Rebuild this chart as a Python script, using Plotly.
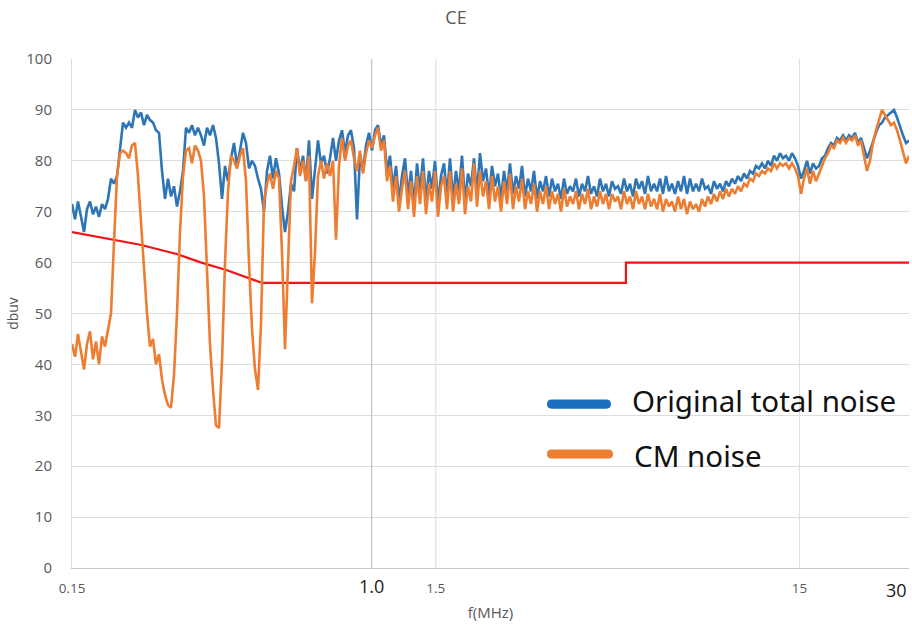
import numpy as np
import plotly.graph_objects as go

# ---------------- data ----------------
# Original total noise (dBuV), sweep 0.15 - 30 MHz (log-spaced sweep points)
total_noise = [
    71.5, 68.5, 72, 69, 66, 70.5, 72, 69.5, 71, 69,
    71.5, 70.5, 72.5, 76.5, 75.5, 77, 82.5, 87.5, 86.5, 87.5,
    86.5, 90, 88.5, 89.5, 87, 89, 88, 87.5, 86, 85.5,
    78, 72.5, 76.5, 73, 75, 71, 74, 78, 86.5, 85.5,
    87, 85, 86.5, 85, 83, 86.5, 85, 87, 84.5, 79.5,
    72.5, 79, 76, 80.5, 83.5, 79, 82, 85.5, 83.5, 78.5,
    80, 79, 76.5, 74.5, 70, 78, 81, 76.5, 80.5, 77.5,
    71, 66, 70, 75.5, 74, 82.5, 78, 81, 76, 84,
    72.5, 78, 84, 79.5, 81, 77.5, 80.5, 84.5, 80, 84,
    86, 81.5, 85, 86, 82.5, 68.5, 81, 78, 83, 85.5,
    82, 86, 87, 83, 85, 78, 81, 74.5, 79, 72,
    77, 80.5, 73, 78, 71, 79.5, 74, 80.5, 72, 78,
    74.5, 80, 71.5, 77, 79.5, 73, 80.5, 72.5, 78, 74,
    81, 72, 77.5, 75, 80.5, 73.5, 81.5, 76, 78.5, 73,
    79, 75, 77.5, 72.5, 78, 74, 79.5, 73.5, 77, 74.5,
    79, 73, 76.5, 74, 78, 72.5, 76, 74, 77, 73,
    76.5, 74, 75.5, 72.5, 76.5, 73.5, 75, 74, 76.5, 73,
    75.5, 74, 77, 73.5, 75, 73, 76.5, 74, 75.5, 73,
    76, 74.5, 75, 73.5, 76.5, 74, 75.5, 73, 76.5, 74.5,
    76, 73.5, 77, 74, 75.5, 74, 76.5, 73.5, 77, 74,
    75.5, 73.5, 76, 74, 77, 73.5, 76.5, 74, 75.5, 74,
    76.5, 74.5, 75, 73.5, 76, 74.5, 75.5, 74, 76, 75,
    76.5, 75.5, 77, 76, 77.5, 76.5, 78, 77.5, 79, 78.5,
    79.5, 78.5, 80, 79, 81, 80, 81.5, 80.5, 81, 80,
    81.5, 80.5, 79, 76.5, 78, 80, 77.5, 79.5, 78.5, 79,
    80.5, 81, 82.5, 83.5, 83, 84.5, 84, 85, 84, 85,
    84.5, 85.5, 83.5, 84.5, 82.5, 80.5, 82, 84, 85.5, 87,
    87.5, 88.5, 89, 89.5, 90, 88.5, 86.5, 85, 83.5, 84,
]

# CM noise (dBuV)
cm_noise = [
    44, 41.5, 46, 42, 39, 44, 46.5, 41, 44.5, 40,
    45.5, 43.5, 46.5, 50, 64, 77, 81.5, 82, 81.5, 80.5,
    83, 83.5, 77, 68, 59, 50, 43.5, 45, 40, 42,
    37, 34, 32, 31.5, 38, 50, 66, 77, 82, 82.5,
    79.5, 83, 82, 80, 73, 58, 44, 35, 28, 27.5,
    40.5, 60, 74, 81, 80, 78.5, 81, 82.5, 76, 60,
    47, 39, 35, 48, 72, 75.5, 77.5, 74.5, 78, 76.5,
    62, 43, 60, 76, 79, 82.5, 77, 80, 76, 81,
    52, 62, 77, 80, 76.5, 79.5, 77, 80, 64.5, 79,
    84.5, 80, 83, 84, 80.5, 78, 82, 77.5, 81.5, 84,
    82.5, 85, 86.5, 82, 84, 76, 79, 72, 77, 70,
    74.5, 78, 70.5, 76, 69, 77, 71.5, 78, 69.5, 75.5,
    72, 78, 69, 75, 77, 70.5, 78, 70, 75.5, 71.5,
    78.5, 69.5, 75, 72, 79.5, 71, 78, 73, 76, 70.5,
    77, 72, 75, 70, 76, 71.5, 77.5, 70.5, 75, 72,
    76.5, 70.5, 74, 71.5, 75.5, 70, 74, 71.5, 75, 70.5,
    74, 71.5, 73.5, 70, 74.5, 71, 73, 71.5, 74, 70.5,
    73.5, 71.5, 74.5, 70.5, 73, 71, 74, 71.5, 73.5, 70.5,
    73.5, 72, 73, 70.5, 74, 71.5, 73, 70.5, 74, 71.5,
    73, 70.5, 73.5, 71, 72.5, 70.5, 73.5, 70, 72.5, 71,
    72, 70, 73, 70.5, 72.5, 69.5, 72, 70.5, 71.5, 70,
    72.5, 71, 73, 71.5, 73.5, 72, 74, 72.5, 74.5, 73,
    74.5, 73.5, 75, 74, 75.5, 75, 76.5, 76, 77.5, 77,
    78, 77.5, 78.5, 78, 79.5, 78.5, 79.5, 79, 79.5, 78.5,
    79.5, 78.5, 77, 73.5, 76.5, 78.5, 75.5, 78, 76, 77.5,
    79, 80.5, 81.5, 83, 82.5, 84, 83.5, 84.5, 83.5, 84.5,
    84, 85, 83, 84, 81, 78, 80, 83.5, 86, 88,
    90, 89, 88, 87, 87.5, 86, 84, 82, 79.5, 81,
]

# EMI limit line
limit_freq = [0.15, 0.194, 0.231, 0.291, 0.337, 0.40, 0.50, 5.0, 5.0, 30.0]
limit_dbuv = [66, 64.6, 63.5, 61.7, 60.1, 58.5, 56, 56, 60, 60]

# x-axis ticks
x_tick_vals = [0.15, 1.0, 1.5, 15, 30]
x_tick_text = ["0.15", "1.0", "1.5", "15", "30"]
x_tick_big = [False, True, False, False, True]
x_grid_vals = [1.0, 1.5, 15]

legend_names = ["Original total noise", "CM noise"]

# ---------------- figure ----------------
BLUE = "#2e75b6"
ORANGE = "#ed7d31"
RED = "#f01414"
GRAY_TXT = "#595959"
BIG_TXT = "#1a1a1a"

f_total = np.geomspace(0.15, 30, len(total_noise))
f_cm = np.geomspace(0.15, 30, len(cm_noise))

fig = go.Figure()
fig.add_trace(go.Scatter(x=limit_freq, y=limit_dbuv, mode="lines",
                         line=dict(color=RED, width=2.2), showlegend=False,
                         name="Limit"))
fig.add_trace(go.Scatter(x=f_total, y=total_noise, mode="lines",
                         line=dict(color=BLUE, width=2.6), showlegend=False,
                         name=legend_names[0]))
fig.add_trace(go.Scatter(x=f_cm, y=cm_noise, mode="lines",
                         line=dict(color=ORANGE, width=2.6), showlegend=False,
                         name=legend_names[1]))

# tick labels; the last one (at the right edge) is placed as a right-anchored label
ticktext = []
annotations = []
for v, t, big in zip(x_tick_vals, x_tick_text, x_tick_big):
    if v == x_tick_vals[-1]:
        ticktext.append("")
        annotations.append(dict(text=t, xref="x", yref="paper", x=np.log10(v),
                                y=-0.043, xanchor="right", yanchor="middle",
                                showarrow=False,
                                font=dict(size=18, color=BIG_TXT)))
    elif big:
        ticktext.append("<span style='font-size:18px;fill:%s;color:%s'>%s</span>"
                        % (BIG_TXT, BIG_TXT, t))
    else:
        ticktext.append(t)

shapes = []
for gv in x_grid_vals:
    shapes.append(dict(type="line", xref="x", yref="y", x0=gv, x1=gv, y0=0, y1=100,
                       line=dict(color="#c4c4c4" if gv == 1.0 else "#dedede", width=1.2),
                       layer="between"))
# legend backdrop
shapes.append(dict(type="rect", xref="paper", yref="paper", x0=0.645, x1=1.0,
                   y0=0.167, y1=0.405, fillcolor="white", line=dict(width=0),
                   layer="between"))

def pill(xp, yp, length, color):
    h = 4.6
    L = length
    path = ("M %g,%g L %g,%g Q %g,%g %g,0 Q %g,%g %g,%g L %g,%g Q 0,%g 0,0 Q 0,%g %g,%g Z"
            % (h, -h, L - h, -h, L, -h, L, L, h, L - h, h, h, h, h, -h, h, -h))
    return dict(type="path", xref="paper", yref="paper", xsizemode="pixel",
                ysizemode="pixel", xanchor=xp, yanchor=yp, path=path,
                fillcolor=color, line=dict(width=0), layer="above")

shapes.append(pill(0.5675, 0.322, 64, "#1a6fc0"))
shapes.append(pill(0.5675, 0.224, 66, ORANGE))

annotations += [
    dict(text=legend_names[0], xref="paper", yref="paper", x=0.667, y=0.330,
         xanchor="left", yanchor="middle", showarrow=False,
         font=dict(family="Noto Sans", size=29.5, color="#111111")),
    dict(text=legend_names[1], xref="paper", yref="paper", x=0.669, y=0.222,
         xanchor="left", yanchor="middle", showarrow=False,
         font=dict(family="Noto Sans", size=29.5, color="#111111")),
]

fig.update_layout(
    width=912, height=627,
    margin=dict(l=72, r=3, t=59, b=59, autoexpand=False),
    paper_bgcolor="white", plot_bgcolor="white",
    font=dict(family="Open Sans", color=GRAY_TXT, size=13),
    title=dict(text="CE", x=0.5, xanchor="center", y=0.972, yanchor="middle",
               font=dict(size=18, color=GRAY_TXT)),
    shapes=shapes, annotations=annotations,
    showlegend=False,
)
fig.update_xaxes(type="log", range=[np.log10(0.15), np.log10(30)],
                 tickvals=x_tick_vals, ticktext=ticktext, showgrid=False,
                 showline=True, linecolor="#c8c8c8", linewidth=1.2, ticks="",
                 zeroline=False, ticklabelstandoff=8, automargin=False,
                 tickfont=dict(size=13.5, color=GRAY_TXT),
                 title=dict(text="f(MHz)", font=dict(size=15, color=GRAY_TXT),
                            standoff=10))
fig.update_yaxes(range=[0, 100], dtick=10, showgrid=True, gridcolor="#dcdcdc",
                 gridwidth=1.2, showline=True, linecolor="#dcdcdc", ticks="",
                 zeroline=False, ticklabelstandoff=16, automargin=False,
                 tickfont=dict(size=15, color=GRAY_TXT),
                 title=dict(text="dbuv", font=dict(size=14, color=GRAY_TXT),
                            standoff=4))

fig.write_html("out.html")
